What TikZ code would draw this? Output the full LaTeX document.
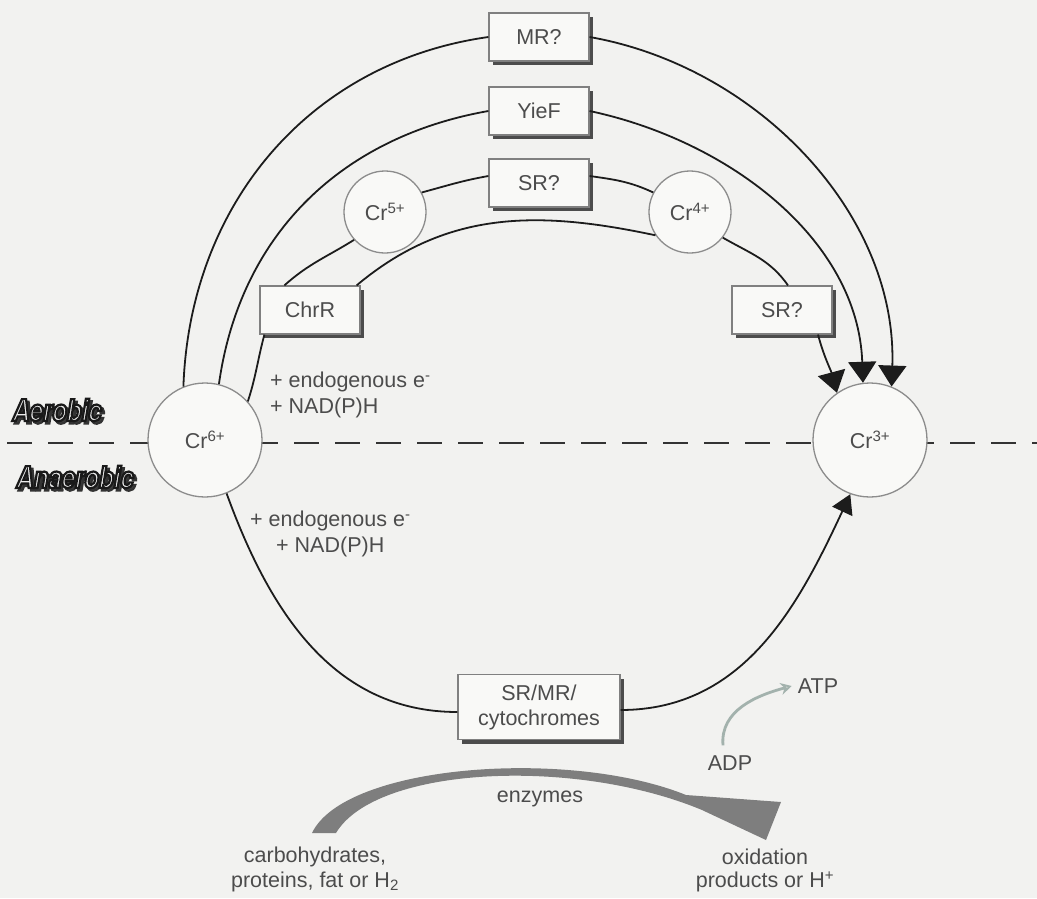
\documentclass[tikz,border=0pt]{standalone}
\usepackage{fontspec}
\setmainfont{Liberation Sans}
\newfontfamily\labfont{TeX Gyre Heros}[FakeStretch=0.8]
\usetikzlibrary{arrows.meta,shadows,calc}
\definecolor{bgc}{HTML}{F2F2F0}
\definecolor{txtc}{HTML}{4C4C4C}
\definecolor{lnc}{HTML}{1C1C1C}
\definecolor{circc}{HTML}{8C8C8C}
\definecolor{boxc}{HTML}{F9F9F7}
\definecolor{enzc}{HTML}{7E7E7E}
\definecolor{atpc}{HTML}{A3B2AD}
\newcommand\outlinedtext[1]{\special{pdf:literal direct 2 Tr 2.2 w 0.1 G}#1\special{pdf:literal direct 0 Tr}}
\newcommand\shadowtext[1]{\special{pdf:literal direct 2 Tr 2.2 w 0.2 G}#1\special{pdf:literal direct 0 Tr}}
\tikzset{
 basefont/.style={font=\fontsize{21.5}{25}\selectfont, text=txtc},
 bx/.style={basefont, draw=black!50, line width=1.2pt, fill=boxc, minimum width=100pt, minimum height=48pt, inner sep=2pt,
   drop shadow={shadow xshift=4pt, shadow yshift=-4pt, fill=black!70, opacity=1}},
 crbig/.style={basefont, circle, draw=circc, line width=1.3pt, fill=boxc, minimum size=114pt, inner sep=0pt},
 crsmall/.style={crbig, minimum size=82pt},
 conn/.style={draw=lnc, line width=1.8pt},
 conarr/.style={conn, -{Triangle[width=28pt,length=21pt]}},
 conarrs/.style={conn, -{Triangle[width=22pt,length=19pt]}},
 lbl/.style={basefont, inner sep=0pt},
 dashln/.style={draw=black!80, line width=1.8pt, dash pattern=on 25pt off 16pt, dash phase=34pt},
 zone/.style={font=\labfont\fontsize{30}{32}\bfseries\itshape, inner sep=0pt},
}
\begin{document}
\begin{tikzpicture}[x=1pt,y=1pt]
\fill[bgc] (0,0) rectangle (1037,-898);
\useasboundingbox (0,0) rectangle (1037,-898);

% zone labels (dark shadow, outlined light letters)
\node[zone, text=black!75] (aersh) at (59.5,-412.5) {\shadowtext{Aerobic}};
\node[zone, text=black!75] (anaersh) at (77.5,-479.5) {\shadowtext{Anaerobic}};
\node[zone, text=black!8] (aer) at (57,-410) {\outlinedtext{Aerobic}};
\node[zone, text=black!8] (anaer) at (75,-477) {\outlinedtext{Anaerobic}};

% divider
\draw[dashln] (0,-443) -- (1037,-443);

% nodes
\node[crbig] (cr6) at (205,-440) {Cr\textsuperscript{6+}};
\node[crbig] (cr3) at (870,-440) {Cr\textsuperscript{3+}};
\node[crsmall] (cr5) at (385,-212) {Cr\textsuperscript{5+}};
\node[crsmall] (cr4) at (690,-212) {Cr\textsuperscript{4+}};
\node[bx] (mr) at (539,-37) {MR?};
\node[bx] (yief) at (539,-111) {YieF};
\node[bx] (srt) at (539,-183) {SR?};
\node[bx] (chrr) at (310,-310) {ChrR};
\node[bx] (srr) at (782,-310) {SR?};
\node[bx, minimum width=162pt, minimum height=65pt, align=center] (cyt) at (539,-707) {SR/MR/\\cytochromes};

% connectors
\draw[conn] (cr6.112) to[out=88,in=188] (mr.west);
\draw[conarr] (mr.east) to[out=-10,in=88,looseness=0.95] (cr3.68);
\draw[conn] (cr6.76) to[out=82,in=190] (yief.west);
\draw[conarr] (yief.east) to[out=-12,in=92,looseness=0.95] (cr3.97);
\draw[conn] (cr6.42) to[out=72,in=-105] ([xshift=5pt]chrr.south west);
\draw[conn] ([xshift=25pt]chrr.north west) to[out=42,in=212] (cr5.222);
\draw[conn] (cr5.28) to[out=15,in=190] ([yshift=7pt]srt.west);
\draw[conn] ([yshift=7pt]srt.east) to[out=-8,in=155] (cr4.152);
\draw[conn] ([xshift=-4pt]chrr.north east) to[out=40,in=168] (cr4.214);
\draw[conn] (cr4.-38) to[out=-30,in=125] ([xshift=6pt]srr.north);
\draw[conarr] ([xshift=36pt]srr.south) to[out=-75,in=105] (cr3.125);
\draw[conn] (cr6.-68) to[out=-70,in=180] ([yshift=-5pt]cyt.west);
\draw[conarrs] ([yshift=-3pt]cyt.east) to[out=0,in=-115] (cr3.-110);

% texts
\node[lbl, anchor=west] (e1) at (270,-382) {+ endogenous e\textsuperscript{-}};
\node[lbl, anchor=west] (n1) at (270,-408) {+ NAD(P)H};
\node[lbl, anchor=west] (e2) at (250,-521) {+ endogenous e\textsuperscript{-}};
\node[lbl, anchor=west] (n2) at (276,-547) {+ NAD(P)H};

\node[lbl] (adp) at (730,-763) {ADP};
\node[lbl] (atp) at (818,-686) {ATP};
\draw[atpc, line width=2.8pt, -{Stealth[length=11pt,width=12pt,open]}] ([xshift=-7pt,yshift=10pt]adp.north) to[out=95,in=195] ([xshift=-6pt]atp.west);

% enzymes arrow
\fill[enzc] (312,-833) .. controls (345,-764) and (570,-748) .. (686,-795) -- (781,-802) -- (766,-840) -- (702,-810) .. controls (575,-757) and (376,-766) .. (336,-833) -- cycle;
\node[lbl] (enz) at (540,-799) {enzymes};

\node[lbl] (c1) at (315,-857) {carbohydrates,};
\node[lbl] (c2) at (315,-882) {proteins, fat or H\textsubscript{2}};
\node[lbl] (o1) at (765,-857) {oxidation};
\node[lbl] (o2) at (765,-882) {products or H\textsuperscript{+}};
\end{tikzpicture}
\end{document}
